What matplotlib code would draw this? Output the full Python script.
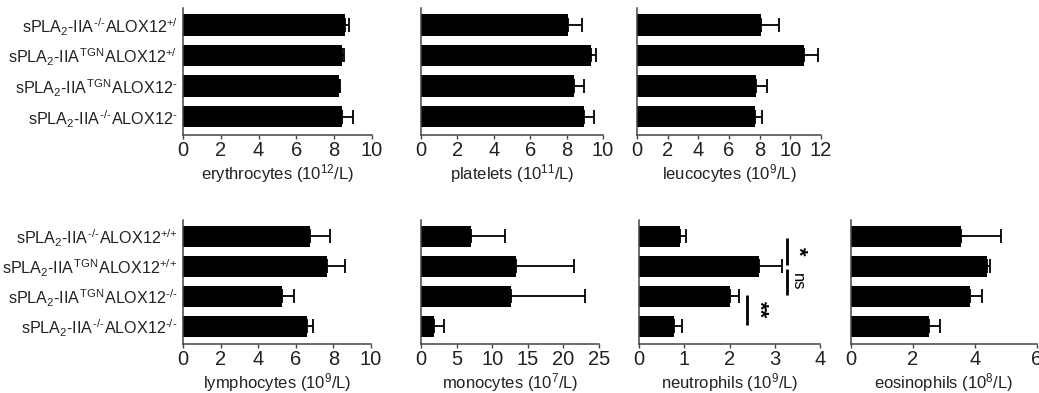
import numpy as np
import matplotlib.pyplot as plt

plt.rcParams['font.family'] = ['Liberation Sans', 'DejaVu Sans']
plt.rcParams['mathtext.fontset'] = 'custom'
plt.rcParams['mathtext.rm'] = 'Liberation Sans'
plt.rcParams['mathtext.it'] = 'Liberation Sans'
plt.rcParams['mathtext.default'] = 'regular'

# Beschriftungen der Gruppen
labels_top = [r'sPLA$_2$-IIA$^{\,\text{-/-}}$ALOX12$^{\text{+/}}$',
              r'sPLA$_2$-IIA$^{\,\text{TGN}}$ALOX12$^{\text{+/}}$',
              r'sPLA$_2$-IIA$^{\,\text{TGN}}$ALOX12$^{\text{-}}$',
              r'sPLA$_2$-IIA$^{\,\text{-/-}}$ALOX12$^{\text{-}}$']
labels_bottom = [r'sPLA$_2$-IIA$^{\,\text{-/-}}$ALOX12$^{\text{+/+}}$',
                 r'sPLA$_2$-IIA$^{\,\text{TGN}}$ALOX12$^{\text{+/+}}$',
                 r'sPLA$_2$-IIA$^{\,\text{TGN}}$ALOX12$^{\text{-/-}}$',
                 r'sPLA$_2$-IIA$^{\,\text{-/-}}$ALOX12$^{\text{-/-}}$']

# Mittelwerte und Fehler (nur positive Richtung)
ery = [8.59, 8.41, 8.28, 8.41]
ery_err = [0.18, 0.09, 0.04, 0.58]
plt_vals = [8.08, 9.36, 8.41, 8.94]
plt_err = [0.79, 0.28, 0.55, 0.55]
leu = [8.06, 10.86, 7.73, 7.69]
leu_err = [1.18, 0.94, 0.76, 0.43]

lym = [6.77, 7.66, 5.27, 6.60]
lym_err = [1.07, 0.97, 0.65, 0.31]
mono = [7.0, 13.3, 12.6, 1.8]
mono_err = [4.8, 8.2, 10.5, 1.5]
neu = [0.90, 2.66, 2.01, 0.77]
neu_err = [0.13, 0.49, 0.20, 0.19]
eos = [3.56, 4.39, 3.83, 2.53]
eos_err = [1.28, 0.10, 0.39, 0.35]

W, H = 1039, 393
fig = plt.figure(figsize=(W / 100, H / 100), dpi=100)


def make_ax(px_left, px_right, px_top, px_bottom):
    return fig.add_axes([px_left / W, (H - px_bottom) / H,
                         (px_right - px_left) / W, (px_bottom - px_top) / H])


def bar_panel(ax, vals, errs, xmax, step, xlabel, ylabels=None):
    y = np.arange(len(vals))
    ax.barh(y, vals, height=0.7, color='black', zorder=2)
    ax.errorbar(vals, y, xerr=[np.zeros(len(errs)), errs], fmt='none',
                ecolor='black', elinewidth=1.3, capsize=5, capthick=1.3, zorder=1)
    ax.set_ylim(3.6, -0.55)
    ax.set_xlim(0, xmax)
    ax.set_xticks(np.arange(0, xmax + 0.01, step))
    ax.spines[['top', 'right']].set_visible(False)
    for s in ['left', 'bottom']:
        ax.spines[s].set_color('#444444')
        ax.spines[s].set_linewidth(1.1)
    ax.tick_params(axis='x', length=3, width=1, color='#444444', pad=1,
                   labelsize=14.5, labelcolor='#222222')
    ax.tick_params(axis='y', length=0, pad=4, labelsize=11.6, labelcolor='#222222')
    ax.set_xlabel(xlabel, fontsize=12, labelpad=2, color='#222222')
    if ylabels is not None:
        ax.set_yticks(y)
        ax.set_yticklabels(ylabels)
    else:
        ax.set_yticks([])


# obere Reihe
a1 = make_ax(183, 372, 8, 135)
bar_panel(a1, ery, ery_err, 10, 2, r'erythrocytes (10$^{12}$/L)', labels_top)
a2 = make_ax(421, 603, 8, 135)
bar_panel(a2, plt_vals, plt_err, 10, 2, r'platelets (10$^{11}$/L)')
a3 = make_ax(637, 821, 8, 135)
bar_panel(a3, leu, leu_err, 12, 2, r'leucocytes (10$^{9}$/L)')

# untere Reihe
b1 = make_ax(183, 371, 220, 344)
bar_panel(b1, lym, lym_err, 10, 2, r'lymphocytes (10$^{9}$/L)', labels_bottom)
b2 = make_ax(421, 599, 220, 344)
bar_panel(b2, mono, mono_err, 25, 5, r'monocytes (10$^{7}$/L)')
b3 = make_ax(639, 820, 220, 344)
bar_panel(b3, neu, neu_err, 4, 1, r'neutrophils (10$^{9}$/L)')
b4 = make_ax(851, 1037, 220, 344)
bar_panel(b4, eos, eos_err, 6, 2, r'eosinophils (10$^{8}$/L)')

# Signifikanz-Markierungen
sig = [(3.26, 0.05, 0.95, '*', 0.02), (3.26, 1.1, 1.95, 'ns', 0.08),
       (2.39, 1.95, 2.95, '**', 0.02)]
for xs, y0, y1, txt, off in sig:
    b3.plot([xs, xs], [y0, y1], color='black', lw=2, solid_capstyle='butt')
    b3.text(xs + off, (y0 + y1) / 2, txt, rotation=-90, ha='left', va='center',
            fontsize=12 if txt == 'ns' else 16, fontweight='bold' if txt != 'ns' else 'normal',
            color='black')

fig.savefig('out.png', dpi=100)
